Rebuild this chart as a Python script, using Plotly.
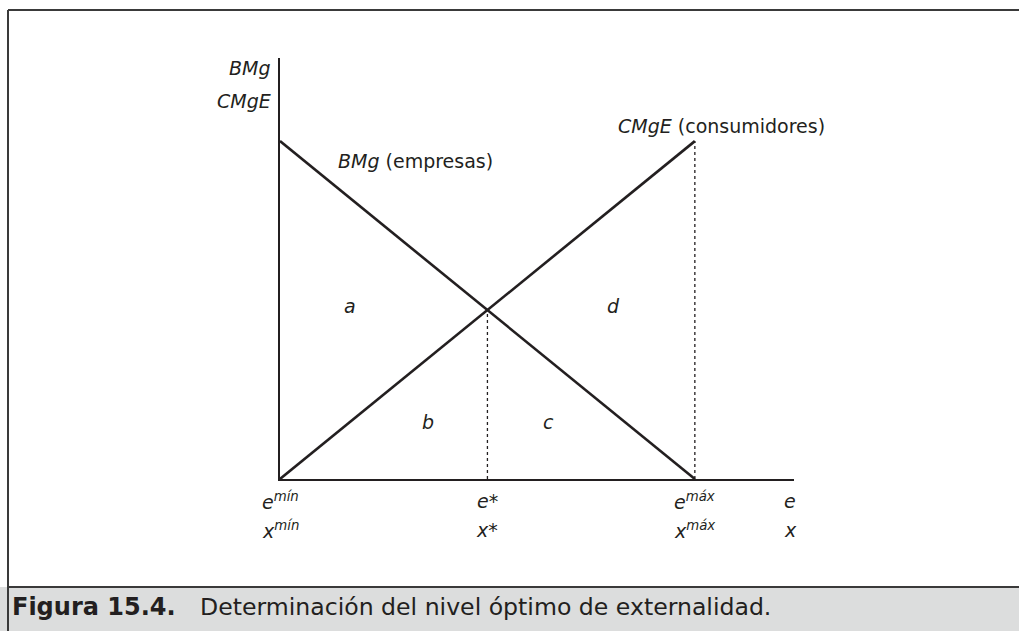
import plotly.graph_objects as go

# niveles de externalidad (e_min, e*, e_max)
e_vals = [0, 5, 10]
bmg = [10, 5, 0]      # beneficio marginal (empresas)
cmge = [0, 5, 10]     # coste marginal externo (consumidores)
e_labels = ["<i>e<sup>mín</sup></i>", "<i>e</i>*", "<i>e<sup>máx</sup></i>"]
x_labels = ["<i>x<sup>mín</sup></i>", "<i>x</i>*", "<i>x<sup>máx</sup></i>"]
area_names = ["a", "d", "b", "c"]
area_x = [1.69, 8.04, 3.57, 6.47]
area_y = [5.13, 5.13, 1.7, 1.7]

W, H = 1019, 631
ink = "#231f20"
font = "DejaVu Sans, Verdana, sans-serif"
f20 = dict(size=19, color=ink, family=font)

fig = go.Figure()
fig.add_trace(go.Scatter(x=e_vals, y=bmg, mode="lines",
                         line=dict(color=ink, width=2.6), hoverinfo="skip"))
fig.add_trace(go.Scatter(x=e_vals, y=cmge, mode="lines",
                         line=dict(color=ink, width=2.6), hoverinfo="skip"))
# lineas punteadas en e* y e_max
for xv, yv in [(e_vals[1], bmg[1]), (e_vals[2], cmge[2])]:
    fig.add_trace(go.Scatter(x=[xv, xv], y=[0, yv], mode="lines",
                             line=dict(color=ink, width=1.3, dash="dot"),
                             hoverinfo="skip"))

ann = []
for k, xv, yv in zip(area_names, area_x, area_y):
    ann.append(dict(x=xv, y=yv, text="<i>%s</i>" % k, showarrow=False, font=f20))
ann.append(dict(x=1.35, y=9.4, xanchor="left", text="<i>BMg</i> (empresas)",
                showarrow=False, font=f20))
ann.append(dict(x=8.1, y=10.45, xanchor="left", text="<i>CMgE</i> (consumidores)",
                showarrow=False, font=f20))
# titulo del eje vertical
ann.append(dict(xref="paper", yref="paper", x=273 / W, y=1 - 68 / H,
                xanchor="right", yanchor="middle",
                text="<i>BMg</i>", showarrow=False, font=f20))
ann.append(dict(xref="paper", yref="paper", x=273 / W, y=1 - 101 / H,
                xanchor="right", yanchor="middle",
                text="<i>CMgE</i>", showarrow=False, font=f20))
# etiquetas del eje horizontal
for xv, el, xl in zip(e_vals, e_labels, x_labels):
    ann.append(dict(x=xv, xref="x", yref="paper", y=1 - 501 / H, yanchor="middle",
                    text=el, showarrow=False, font=f20))
    ann.append(dict(x=xv, xref="x", yref="paper", y=1 - 530 / H, yanchor="middle",
                    text=xl, showarrow=False, font=f20))
ann.append(dict(x=12.3, xref="x", yref="paper", y=1 - 501 / H, yanchor="middle",
                text="<i>e</i>", showarrow=False, font=f20))
ann.append(dict(x=12.3, xref="x", yref="paper", y=1 - 530 / H, yanchor="middle",
                text="<i>x</i>", showarrow=False, font=f20))

# pie de figura
ann.append(dict(xref="paper", yref="paper", x=10 / W, y=1 - 607 / H,
                xanchor="left", yanchor="middle",
                text="<b>Figura 15.4.</b>", showarrow=False,
                font=dict(size=24, color=ink, family=font)))
ann.append(dict(xref="paper", yref="paper", x=198 / W, y=1 - 607 / H,
                xanchor="left", yanchor="middle",
                text="Determinación del nivel óptimo de externalidad.", showarrow=False,
                font=dict(size=23.6, color=ink, family=font)))

shapes = [
    dict(type="rect", xref="paper", yref="paper", x0=0, x1=1,
         y0=0, y1=1 - 587 / H, fillcolor="#dcdddd", line=dict(width=0), layer="below"),
    dict(type="line", xref="paper", yref="paper", x0=8 / W, x1=1.01,
         y0=1 - 10 / H, y1=1 - 10 / H, line=dict(color="#3a3a3a", width=2)),
    dict(type="line", xref="paper", yref="paper", x0=8 / W, x1=8 / W,
         y0=-0.01, y1=1 - 10 / H, line=dict(color="#3a3a3a", width=2)),
    dict(type="line", xref="paper", yref="paper", x0=8 / W, x1=1.01,
         y0=1 - 587 / H, y1=1 - 587 / H, line=dict(color="#3a3a3a", width=2)),
]

fig.update_layout(
    width=W, height=H, showlegend=False,
    margin=dict(l=0, r=0, t=0, b=0),
    paper_bgcolor="white", plot_bgcolor="white",
    xaxis=dict(domain=[280 / W, 794 / W], range=[0, 12.39], showline=True,
               linecolor=ink, linewidth=1.6, showgrid=False, zeroline=False,
               showticklabels=False, ticks=""),
    yaxis=dict(domain=[1 - 479 / H, 1 - 58 / H], range=[0, 12.46], showline=True,
               linecolor=ink, linewidth=1.6, showgrid=False, zeroline=False,
               showticklabels=False, ticks=""),
    annotations=ann, shapes=shapes,
)

fig.write_html("out.html", config={"displayModeBar": False},
               post_script="document.body.style.margin='0';")
